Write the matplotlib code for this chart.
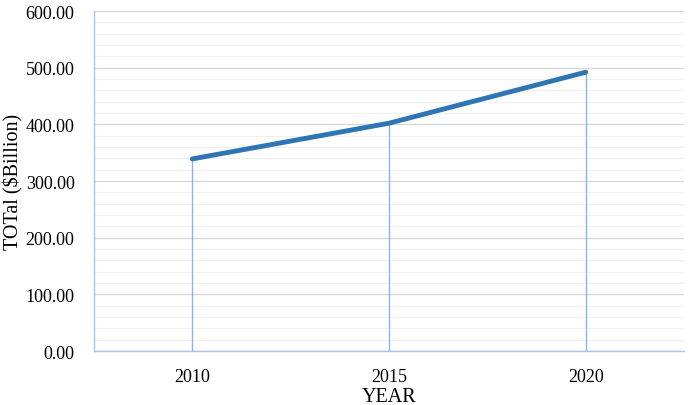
import matplotlib
matplotlib.use("Agg")
import matplotlib.pyplot as plt
from matplotlib.ticker import MultipleLocator, FormatStrFormatter

years = ["2010", "2015", "2020"]
totals = [339, 402, 492]

plt.rcParams['font.family'] = ['Liberation Serif', 'DejaVu Serif']

fig = plt.figure(figsize=(6.9, 4.06), dpi=100)
ax = fig.add_axes([0.1362, 0.133, 0.8551, 0.8374])

x = list(range(len(years)))
ax.set_xlim(-0.5, len(years) - 0.5)
ax.set_ylim(0, 600)
ax.yaxis.set_major_locator(MultipleLocator(100))
ax.yaxis.set_minor_locator(MultipleLocator(20))
ax.yaxis.set_major_formatter(FormatStrFormatter('%.2f'))
ax.grid(axis='y', which='major', color='#d9d9d9', lw=1.0, zorder=0)
ax.grid(axis='y', which='minor', color='#f0f0f0', lw=0.9, zorder=0)
ax.set_axisbelow(True)

ax.vlines(x, 0, totals, color='#8fb4e3', lw=1.0, zorder=2)
ax.plot(x, totals, color='#2E75B6', lw=3.5, solid_capstyle='round', zorder=3)

ax.set_xticks(x)
ax.set_xticklabels(years)
ax.tick_params(axis='both', which='both', length=0, labelsize=13, colors='black')
ax.tick_params(axis='x', pad=12)
ax.tick_params(axis='y', pad=14)

for s in ['top', 'right']:
    ax.spines[s].set_visible(False)
for s in ['left', 'bottom']:
    ax.spines[s].set_color('#a9c4e8')
    ax.spines[s].set_linewidth(1.0)

ax.set_ylabel('TOTal ($Billion)', fontsize=14.5, va='center')
ax.yaxis.set_label_coords(-0.137, 0.5)
ax.set_xlabel('YEAR', fontsize=14.5, va='center')
ax.xaxis.set_label_coords(0.5, -0.133)

fig.savefig('out.png', dpi=100)
